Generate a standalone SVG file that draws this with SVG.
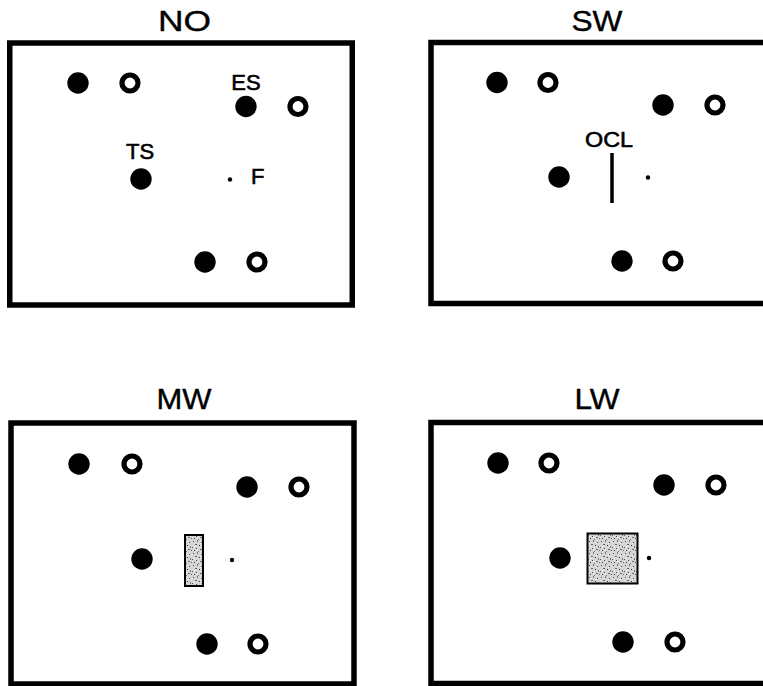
<svg xmlns="http://www.w3.org/2000/svg" width="763" height="686" viewBox="0 0 763 686">
<defs>
<style>
.frame{fill:#fff;stroke:#000;stroke-width:5.5}
.title{font-family:"Liberation Sans",Arial,sans-serif;font-size:30px;fill:#000;stroke:#000;stroke-width:0.4;text-anchor:middle}
.lbl{font-family:"Liberation Sans",Arial,sans-serif;font-size:22px;fill:#000;stroke:#000;stroke-width:0.6}
.fil{fill:#000}
.opn{fill:none;stroke:#000;stroke-width:5.2}
.dot{fill:#000}
.occ{fill:url(#speck);stroke:#000;stroke-width:2}
</style>
<pattern id="speck" width="12" height="12" patternUnits="userSpaceOnUse">
<rect width="12" height="12" fill="#d6d6d6"/>
<rect x="1" y="1" width="1" height="1" fill="#555"/>
<rect x="5" y="0" width="1" height="2" fill="#777"/>
<rect x="9" y="2" width="1" height="1" fill="#444"/>
<rect x="3" y="4" width="2" height="1" fill="#666"/>
<rect x="7" y="5" width="1" height="1" fill="#333"/>
<rect x="10" y="6" width="1" height="2" fill="#777"/>
<rect x="0" y="7" width="1" height="1" fill="#555"/>
<rect x="4" y="8" width="1" height="1" fill="#444"/>
<rect x="8" y="9" width="2" height="1" fill="#666"/>
<rect x="2" y="10" width="1" height="1" fill="#333"/>
<rect x="6" y="11" width="1" height="1" fill="#777"/>
<rect x="11" y="10" width="1" height="1" fill="#555"/>
<rect x="2" y="6" width="1" height="1" fill="#fff"/>
<rect x="8" y="3" width="1" height="1" fill="#fff"/>
<rect x="5" y="9" width="1" height="1" fill="#fff"/>
</pattern>
</defs>
<rect width="763" height="686" fill="#fff"/>

<g id="panel-NO">
<text class="title" x="184.5" y="31" textLength="53" lengthAdjust="spacingAndGlyphs">NO</text>
<rect class="frame" x="9.75" y="43" width="342.5" height="262"/>
<circle class="fil" cx="78" cy="83" r="10.7"/>
<circle class="opn" cx="130" cy="83" r="8"/>
<text class="lbl" x="246" y="90" text-anchor="middle">ES</text>
<circle class="fil" cx="246" cy="106.5" r="10.7"/>
<circle class="opn" cx="298" cy="106.5" r="8"/>
<text class="lbl" x="140" y="159" text-anchor="middle">TS</text>
<circle class="fil" cx="141" cy="179" r="10.7"/>
<circle class="dot" cx="230" cy="179.5" r="2.2"/>
<text class="lbl" x="251" y="184">F</text>
<circle class="fil" cx="205" cy="262" r="10.7"/>
<circle class="opn" cx="257" cy="262" r="8"/>
</g>

<g id="panel-SW">
<text class="title" x="597" y="31" textLength="51" lengthAdjust="spacingAndGlyphs">SW</text>
<rect class="frame" x="431" y="42.5" width="345" height="261"/>
<circle class="fil" cx="497" cy="82.5" r="10.7"/>
<circle class="opn" cx="548" cy="82.5" r="8"/>
<circle class="fil" cx="663" cy="105" r="10.7"/>
<circle class="opn" cx="715" cy="105" r="8"/>
<text class="lbl" x="609" y="147" text-anchor="middle" textLength="48" lengthAdjust="spacingAndGlyphs">OCL</text>
<line x1="612" y1="153" x2="612" y2="203" stroke="#000" stroke-width="3.5"/>
<circle class="fil" cx="559" cy="177" r="10.7"/>
<circle class="dot" cx="648" cy="177.5" r="2.2"/>
<circle class="fil" cx="622" cy="261" r="10.7"/>
<circle class="opn" cx="673" cy="261" r="8"/>
</g>

<g id="panel-MW">
<text class="title" x="184" y="409" textLength="55" lengthAdjust="spacingAndGlyphs">MW</text>
<rect class="frame" x="11" y="423" width="343" height="261"/>
<circle class="fil" cx="79" cy="464" r="10.7"/>
<circle class="opn" cx="132" cy="464" r="8"/>
<circle class="fil" cx="247" cy="487" r="10.7"/>
<circle class="opn" cx="299" cy="487" r="8"/>
<circle class="fil" cx="142" cy="559" r="10.7"/>
<rect class="occ" x="185" y="535" width="18" height="51"/>
<circle class="dot" cx="232" cy="560" r="2.2"/>
<circle class="fil" cx="207" cy="644" r="10.7"/>
<circle class="opn" cx="258" cy="644" r="8"/>
</g>

<g id="panel-LW">
<text class="title" x="597" y="409" textLength="45" lengthAdjust="spacingAndGlyphs">LW</text>
<rect class="frame" x="431" y="422.5" width="345" height="261"/>
<circle class="fil" cx="498" cy="463" r="10.7"/>
<circle class="opn" cx="549" cy="463" r="8"/>
<circle class="fil" cx="664" cy="485" r="10.7"/>
<circle class="opn" cx="716" cy="485" r="8"/>
<circle class="fil" cx="560" cy="558" r="10.7"/>
<rect class="occ" x="587.5" y="533.5" width="50" height="50"/>
<circle class="dot" cx="649" cy="558" r="2.2"/>
<circle class="fil" cx="623" cy="642" r="10.7"/>
<circle class="opn" cx="675" cy="642" r="8"/>
</g>
</svg>
